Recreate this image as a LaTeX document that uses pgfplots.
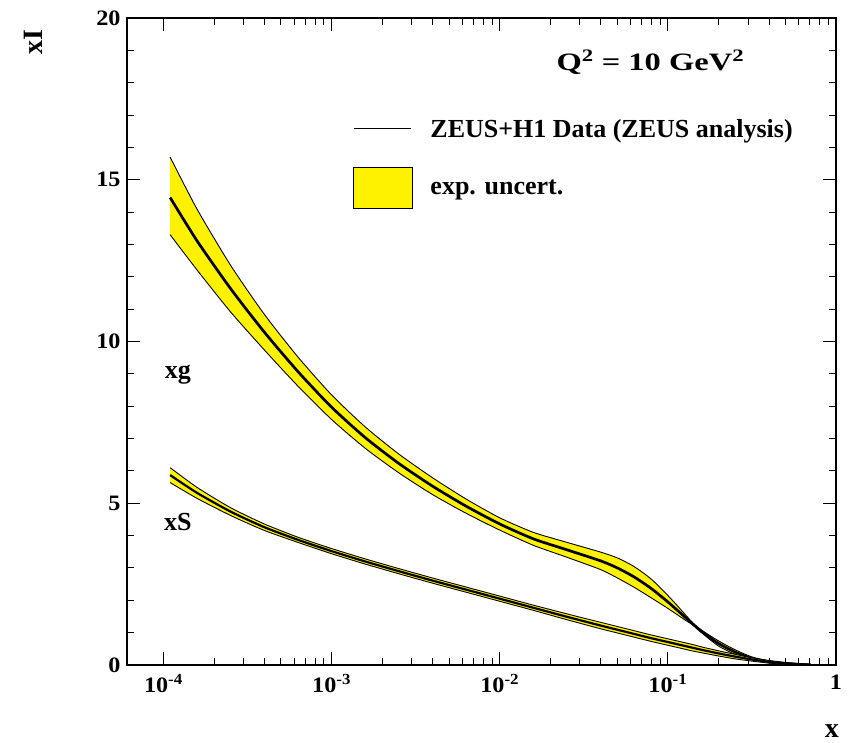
\documentclass[border=0pt]{standalone}
\usepackage{fontspec}
\setmainfont{Liberation Serif}
\usepackage{pgfplots}
\pgfplotsset{compat=1.18}
\usepackage{pgfplotstable}

\pgfplotsset{
  linelegend/.style={legend image code/.code={\draw[##1] (0pt,0pt) -- (57pt,0pt);}},
  boxlegend/.style={legend image code/.code={\draw[##1] (0pt,-20.5pt) rectangle (59pt,20.5pt);}},
}
\newcommand\tickfont{\fontsize{22}{26}\selectfont\bfseries\addfontfeature{FakeStretch=1.1}}

\pgfplotstableread{
x        gc    gu    gl    sc    su    sl
1.096e-4 14.45 15.70 13.30 5.87 6.10 5.64
1.585e-4 13.11 14.09 12.21 5.32 5.49 5.15
2.512e-4 11.63 12.35 10.91 4.74 4.86 4.62
3.981e-4 10.29 10.84 9.74  4.26 4.36 4.16
6.310e-4 9.07  9.52  8.62  3.87 3.95 3.79
1.000e-3 7.97  8.35  7.59  3.52 3.60 3.44
1.585e-3 7.03  7.36  6.70  3.20 3.28 3.12
2.512e-3 6.23  6.52  5.94  2.90 2.98 2.82
3.981e-3 5.53  5.79  5.27  2.61 2.69 2.53
6.310e-3 4.91  5.13  4.69  2.33 2.41 2.25
1.000e-2 4.36  4.55  4.17  2.05 2.13 1.97
1.585e-2 3.90  4.10  3.70  1.77 1.85 1.69
2.512e-2 3.56  3.79  3.33  1.49 1.58 1.40
3.981e-2 3.22  3.49  2.95  1.22 1.32 1.12
5.012e-2 3.00  3.31  2.69  1.09 1.19 0.99
6.310e-2 2.72  3.04  2.40  0.96 1.06 0.86
7.943e-2 2.37  2.66  2.08  0.83 0.93 0.73
0.1000   1.95  2.15  1.75  0.71 0.81 0.61
0.1259   1.49  1.58  1.40  0.59 0.69 0.49
0.1413   1.26  1.29  1.23  0.53 0.63 0.43
0.1585   1.04  1.08  1.00  0.47 0.56 0.38
0.1995   0.67  0.75  0.59  0.36 0.44 0.28
0.2512   0.40  0.47  0.33  0.26 0.33 0.19
0.3162   0.20  0.25  0.15  0.17 0.22 0.12
0.3981   0.10  0.13  0.07  0.10 0.14 0.06
0.5012   0.04  0.06  0.02  0.05 0.08 0.02
0.6310   0.01  0.02  0.00  0.02 0.04 0.00
0.7079   0.00  0.01  0.00  0.01 0.02 0.00
}\pdfdata

\begin{document}
\begin{tikzpicture}
\useasboundingbox (-127pt,-77pt) rectangle (723pt,665pt);
\begin{axis}[
  at={(0pt,0pt)}, anchor=south west,
  scale only axis, width=709pt, height=647pt,
  xmode=log, xmin=6.07e-5, xmax=1,
  ymin=0, ymax=20,
  axis line style={line width=1.4pt},
  major tick style={black, line width=1.2pt},
  minor tick style={black, line width=1.0pt},
  major tick length=13pt, minor tick length=7pt,
  tick align=inside,
  xtick={1e-4,1e-3,1e-2,1e-1,1},
  xticklabels={10\textsuperscript{-4},10\textsuperscript{-3},10\textsuperscript{-2},10\textsuperscript{-1},1},
  ytick={0,5,10,15,20},
  yticklabels={0,5,10,15,20},
  minor y tick num=4,
  xticklabel style={font=\tickfont, yshift=-6pt},
  yticklabel style={font=\tickfont, xshift=-3pt},
  xlabel={x}, ylabel={xI},
  xlabel style={font=\fontsize{28}{32}\selectfont\bfseries, inner sep=0pt, at={(axis description cs:0.994,-0.102)}, anchor=center},
  ylabel style={font=\fontsize{28}{32}\selectfont\bfseries, inner sep=0pt, at={(axis description cs:-0.1326,0.963)}, anchor=center},
  legend style={draw=none, fill=none, at={(axis description cs:0.319,0.8473)}, anchor=north west,
    font=\fontsize{26}{30}\selectfont\bfseries, inner sep=0pt, row sep=26pt,
    /tikz/every odd column/.append style={column sep=15pt}},
  legend cell align=left,
  every axis plot/.append style={tension=0.4},
]
% xg band (upper edge left to right, lower edge back)
\addplot[fill=yellow, draw=none, smooth, forget plot] coordinates {
(1.096e-4,15.70) (1.585e-4,14.09) (2.512e-4,12.35) (3.981e-4,10.84) (6.310e-4,9.52) (1e-3,8.35)
(1.585e-3,7.36) (2.512e-3,6.52) (3.981e-3,5.79) (6.310e-3,5.13) (0.01,4.55) (0.01585,4.10)
(0.02512,3.79) (0.03981,3.49) (0.05012,3.31) (0.06310,3.04) (0.07943,2.66) (0.1,2.15)
(0.1259,1.58) (0.1413,1.29) (0.1585,1.08) (0.1995,0.75) (0.2512,0.47) (0.3162,0.25)
(0.3981,0.13) (0.5012,0.06) (0.6310,0.02) (0.7079,0.01)
(0.7079,0.00) (0.6310,0.00) (0.5012,0.02) (0.3981,0.07) (0.3162,0.15) (0.2512,0.33)
(0.1995,0.59) (0.1585,1.00) (0.1413,1.23) (0.1259,1.40) (0.1,1.75) (0.07943,2.08)
(0.06310,2.40) (0.05012,2.69) (0.03981,2.95) (0.02512,3.33) (0.01585,3.70) (0.01,4.17)
(6.310e-3,4.69) (3.981e-3,5.27) (2.512e-3,5.94) (1.585e-3,6.70) (1e-3,7.59) (6.310e-4,8.62)
(3.981e-4,9.74) (2.512e-4,10.91) (1.585e-4,12.21) (1.096e-4,13.30)
} -- cycle;
\addplot[black, line width=0.9pt, smooth, forget plot] table[x=x,y=gu] {\pdfdata};
\addplot[black, line width=0.9pt, smooth, forget plot] table[x=x,y=gl] {\pdfdata};
\addplot[black, line width=2.7pt, smooth, forget plot] table[x=x,y=gc] {\pdfdata};
% xS band
\addplot[fill=yellow, draw=none, smooth, forget plot] coordinates {
(1.096e-4,6.10) (1.585e-4,5.49) (2.512e-4,4.86) (3.981e-4,4.36) (6.310e-4,3.95) (1e-3,3.60)
(1.585e-3,3.28) (2.512e-3,2.98) (3.981e-3,2.69) (6.310e-3,2.41) (0.01,2.13) (0.01585,1.85)
(0.02512,1.58) (0.03981,1.32) (0.05012,1.19) (0.06310,1.06) (0.07943,0.93) (0.1,0.81)
(0.1259,0.69) (0.1413,0.63) (0.1585,0.56) (0.1995,0.44) (0.2512,0.33) (0.3162,0.22)
(0.3981,0.14) (0.5012,0.08) (0.6310,0.04) (0.7079,0.02)
(0.7079,0.00) (0.6310,0.00) (0.5012,0.02) (0.3981,0.06) (0.3162,0.12) (0.2512,0.19)
(0.1995,0.28) (0.1585,0.38) (0.1413,0.43) (0.1259,0.49) (0.1,0.61) (0.07943,0.73)
(0.06310,0.86) (0.05012,0.99) (0.03981,1.12) (0.02512,1.40) (0.01585,1.69) (0.01,1.97)
(6.310e-3,2.25) (3.981e-3,2.53) (2.512e-3,2.82) (1.585e-3,3.12) (1e-3,3.44) (6.310e-4,3.79)
(3.981e-4,4.16) (2.512e-4,4.62) (1.585e-4,5.15) (1.096e-4,5.64)
} -- cycle;
\addplot[black, line width=0.9pt, smooth, forget plot] table[x=x,y=su] {\pdfdata};
\addplot[black, line width=0.9pt, smooth, forget plot] table[x=x,y=sl] {\pdfdata};
\addplot[black, line width=2.2pt, smooth, forget plot] table[x=x,y=sc] {\pdfdata};

\addlegendimage{black, line width=1.2pt, linelegend}
\addlegendentry{ZEUS+H1 Data (ZEUS analysis)}
\addlegendimage{fill=yellow, draw=black, line width=1pt, boxlegend}
\addlegendentry{exp. uncert.}

\node[font=\fontsize{25}{30}\selectfont\bfseries\addfontfeature{FakeStretch=1.3}] at (axis cs:0.0787,18.64) {Q\textsuperscript{2} = 10 GeV\textsuperscript{2}};
\node[font=\fontsize{26}{30}\selectfont\bfseries] at (axis cs:1.22e-4,8.96) {xg};
\node[font=\fontsize{26}{30}\selectfont\bfseries] at (axis cs:1.22e-4,4.42) {xS};
\end{axis}
\end{tikzpicture}
\end{document}
